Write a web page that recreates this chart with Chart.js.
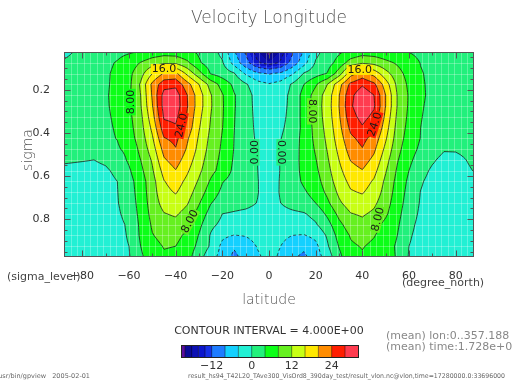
<!DOCTYPE html>
<html><head><meta charset="utf-8">
<script src="https://cdn.jsdelivr.net/npm/chart.js@4.4.1/dist/chart.umd.min.js"></script>
<style>html,body{margin:0;padding:0;background:#fff;overflow:hidden}#c{display:block}</style>
</head><body>
<canvas id="c" width="513" height="382"></canvas>
<script>
// ---------------- data ----------------
const latitudes = [-87.86,-80,-75,-70,-65,-60,-55,-50,-45,-40,-35,-30,-25,-20,-15,-10,-5,0,
                   5,10,15,20,25,30,35,40,45,50,55,60,65,70,75,80,87.86];
const sigmaLevels = [0.025,0.075,0.125,0.175,0.225,0.275,0.325,0.375,0.425,0.475,
                     0.525,0.575,0.625,0.675,0.725,0.775,0.825,0.875,0.925,0.975];
// zonal-mean velocity (m/s), one row per sigma level, columns follow latitudes
const windRows = [
 [-1.0,1.0,1.8,2.4,3.0,3.6,4.2,5.5,6.3,6.0,4.8,3.5,1.5,-1.0,-7.5,-12.5,-17.5,-21.0, -17.5,-12.5,-7.5,-1.0,1.5,3.5,5.0,6.3,6.0,5.3,4.5,3.95,3.2,2.6,2.0,1.2,0.3],
 [0.5,1.8,2.5,3.2,4.3,6.0,8.2,10.2,11.3,11.2,8.8,4.5,2.0,0.4,-5.5,-10.5,-15.5,-17.5, -15.5,-10.5,-5.5,0.4,2.3,5.5,9.8,11.5,10.8,9.0,7.5,5.5,3.9,3.2,2.6,1.8,0.8],
 [1.0,2.2,2.8,3.5,4.8,7.0,10.5,16.0,20.5,21.0,15.0,9.5,3.8,2.2,0.4,-4.5,-7.2,-8.3, -7.2,-4.5,0.4,2.4,4.2,10.0,18.5,21.5,18.5,13.5,9.5,6.5,4.2,3.4,2.9,2.3,1.2],
 [1.4,2.5,3.0,3.6,4.8,7.0,12.5,21.0,26.5,27.0,21.5,16.0,10.5,6.5,3.2,0.5,-2.5,-3.7, -2.5,0.5,4.0,7.5,12.0,18.5,25.0,27.5,25.0,18.0,11.0,7.2,4.3,3.5,3.1,2.6,1.5],
 [1.6,2.7,3.1,3.7,4.9,7.3,12.0,20.5,29.5,30.0,24.0,17.8,12.3,8.3,4.3,1.8,-1.5,-2.2, -1.5,1.0,5.5,9.6,13.8,19.8,27.0,30.5,28.0,20.0,11.8,7.6,4.3,3.6,3.2,2.8,1.8],
 [1.6,2.8,3.2,3.7,4.7,7.4,11.7,19.8,29.6,30.2,24.2,17.8,12.4,8.4,4.3,1.8,-1.3,-2.2, -1.2,1.0,5.5,9.8,14.0,20.0,27.5,30.5,28.5,20.0,11.8,7.5,4.2,3.5,3.1,2.7,1.8],
 [1.6,2.8,3.2,3.6,4.5,7.0,11.0,18.5,28.5,29.0,23.5,17.0,12.0,8.3,4.2,1.7,-1.0,-2.3, -1.0,1.2,5.4,9.6,13.8,19.5,26.5,29.3,27.0,19.0,11.2,7.2,4.1,3.4,3.0,2.7,1.8],
 [1.5,2.7,3.1,3.5,4.3,6.6,10.5,17.0,26.5,27.5,22.5,16.3,11.6,8.1,4.1,1.7,-0.8,-2.3, -0.6,1.4,5.2,9.3,13.3,18.8,25.0,27.6,25.0,17.8,10.6,6.8,4.0,3.3,3.0,2.6,1.8],
 [1.4,2.6,3.0,3.4,4.1,6.2,9.8,15.5,23.8,25.0,20.5,15.5,11.0,7.7,4.0,1.6,-0.5,-2.3, -0.1,1.8,5.4,8.9,12.8,18.0,23.2,25.2,22.5,16.5,10.0,6.3,3.9,3.2,2.8,2.4,1.7],
 [1.2,2.4,2.8,3.1,3.6,5.0,9.0,14.0,21.5,23.8,19.5,14.8,10.5,7.4,3.9,1.5,-0.2,-2.3, 0.1,2.2,5.3,8.4,12.2,17.0,21.8,23.8,20.8,15.0,9.2,5.6,3.3,1.8,0.3,0.3,1.0],
 [0.35,0.15,0.0,0.6,2.0,4.6,8.0,12.5,19.5,21.8,18.0,13.8,9.8,7.0,3.6,1.4,0.0,-2.3, 0.2,2.4,5.2,7.8,11.5,16.0,20.2,21.8,19.0,13.5,8.3,4.8,2.3,0.5,-1.0,-0.8,0.6],
 [-0.6,-0.8,-0.9,-0.5,0.8,3.5,7.0,11.5,17.5,19.8,16.5,12.8,9.2,6.5,3.2,1.2,0.1,-2.3, 0.2,2.5,5.0,7.2,10.8,15.0,18.5,19.8,17.2,12.3,7.5,4.0,1.3,-0.6,-1.5,-1.2,0.1],
 [-1.2,-1.4,-1.5,-1.1,0.0,2.6,6.0,10.5,15.8,17.8,15.0,11.5,7.5,4.2,2.5,1.2,0.2,-2.0, 0.3,2.4,4.6,6.4,10.0,14.0,17.0,17.8,15.5,11.2,6.8,3.2,0.4,-1.2,-1.8,-1.6,-0.8],
 [-1.4,-1.5,-1.4,-1.0,-0.1,2.2,5.8,10.2,14.8,16.3,13.8,10.0,6.0,3.2,2.0,1.2,0.2,-1.8, 0.3,2.0,3.5,5.5,8.8,12.8,15.6,16.3,14.3,10.5,6.3,2.7,-0.1,-1.4,-1.9,-1.8,-1.2],
 [-1.5,-1.6,-1.5,-1.2,-0.2,1.8,5.5,9.8,13.5,14.5,12.3,8.3,4.2,2.0,1.4,1.0,-0.1,-1.5, 0.0,1.4,2.2,4.0,7.2,11.3,14.0,14.5,12.8,9.6,5.8,2.2,-0.3,-1.5,-2.0,-1.9,-1.4],
 [-1.6,-1.7,-1.6,-1.3,-0.5,1.2,5.2,9.2,11.8,12.5,10.5,6.5,2.5,0.0,-0.4,-0.8,-1.2,-1.6, -1.2,-0.8,-0.3,1.2,4.8,9.0,11.8,12.5,11.2,8.6,5.2,1.6,-0.6,-1.6,-2.0,-2.0,-1.6],
 [-1.7,-1.8,-1.7,-1.5,-0.9,0.5,4.8,8.5,10.5,10.8,8.8,5.0,0.9,-0.9,-2.0,-2.2,-2.0,-1.8, -2.0,-2.2,-1.8,-0.4,2.5,7.0,10.0,10.8,9.3,7.0,4.6,0.9,-0.9,-1.7,-2.0,-2.0,-1.7],
 [-1.7,-1.8,-1.7,-1.5,-1.0,0.3,4.6,7.8,9.2,9.0,7.2,3.8,-0.3,-3.2,-4.1,-3.8,-2.8,-2.3, -3.0,-4.0,-4.2,-3.0,0.5,5.5,8.3,9.2,8.2,6.4,4.0,0.4,-1.1,-1.8,-2.0,-2.0,-1.8],
 [-1.6,-1.7,-1.6,-1.4,-0.9,0.0,4.0,6.8,8.2,8.0,6.2,3.0,-0.5,-5.0,-7.5,-5.8,-3.8,-2.8, -4.0,-6.0,-7.2,-5.0,-0.5,4.2,7.5,8.2,7.3,5.6,3.5,0.0,-1.2,-1.8,-2.0,-2.0,-1.8],
 [-1.5,-1.6,-1.5,-1.3,-0.9,-0.3,3.4,6.0,7.5,7.2,5.5,1.5,-2.5,-5.5,-9.0,-6.5,-4.5,-3.0, -4.5,-7.5,-8.8,-6.0,-2.2,3.0,6.8,7.6,6.8,5.0,3.8,-0.3,-1.2,-1.7,-1.9,-1.9,-1.7]
];
const xTickValues = [-80,-60,-40,-20,0,20,40,60,80];
const yTickValues = [0.2,0.4,0.6,0.8];
const contourLevels = [-20,-16,-12,-8,-4,0,4,8,12,16,20,24,28];
const colorBounds = [-21.2,-20,-18,-16,-14,-12,-8,-4,0,4,8,12,16,20,24,28,31.8];
const bandColors = ['#5a0c9e','#0a0a96','#0c10b4','#0c16cc','#1630e6','#1e7cff','#14d0ff','#22f0d4',
                    '#22f07c','#0cff18','#66f020','#c8ff14','#ffe800','#ff8c00','#ff1e00','#ff3c50'];
const colorbarTicks = [-12,0,12,24];
const contourLabels = [
  {lat:-45.0, sig:0.104, text:'16.0', rot:0},
  {lat:38.9,  sig:0.108, text:'16.0', rot:0},
  {lat:-59.3, sig:0.257, text:'8.00', rot:-90},
  {lat:18.4,  sig:0.300, text:'8.00', rot:90},
  {lat:-37.6, sig:0.365, text:'24.0', rot:-78},
  {lat:45.3,  sig:0.360, text:'24.0', rot:-72},
  {lat:-34.0, sig:0.810, text:'8.00', rot:-62},
  {lat:46.6,  sig:0.800, text:'8.00', rot:-76},
  {lat:-6.2,  sig:0.490, text:'0.00', rot:-90},
  {lat:5.3,   sig:0.490, text:'0.00', rot:90}
];
// ---------------------------------------------------------------
const FONT = '"DejaVu Sans", "Liberation Sans", sans-serif';

function locate(arr, v){
  const n = arr.length;
  if (v <= arr[0]) return [0, 0];
  if (v >= arr[n-1]) return [n-2, 1];
  let i = 0; while (i < n-2 && v > arr[i+1]) i++;
  return [i, (v-arr[i])/(arr[i+1]-arr[i])];
}
function fieldAt(lat, sig){
  const [i,tx] = locate(latitudes, lat), [j,ty] = locate(sigmaLevels, sig);
  const a = windRows[j][i], b = windRows[j][i+1], c = windRows[j+1][i], d = windRows[j+1][i+1];
  return (a*(1-tx)+b*tx)*(1-ty) + (c*(1-tx)+d*tx)*ty;
}
function bandIndex(v){
  for (let k = 0; k < bandColors.length; k++) if (v < colorBounds[k+1]) return k;
  return bandColors.length-1;
}
function hexRgb(h){ return [parseInt(h.substr(1,2),16), parseInt(h.substr(3,2),16), parseInt(h.substr(5,2),16)]; }

function chainSegments(segs){
  const adj = new Map();
  segs.forEach((s, idx) => { for (const k of s){ if(!adj.has(k)) adj.set(k, []); adj.get(k).push(idx); } });
  const used = new Array(segs.length).fill(false), out = [];
  for (let s = 0; s < segs.length; s++){
    if (used[s]) continue; used[s] = true;
    let chain = [segs[s][0], segs[s][1]];
    for (let dir = 0; dir < 2; dir++){
      while (true){
        const end = chain[chain.length-1];
        const cand = (adj.get(end) || []).find(id => !used[id]);
        if (cand === undefined) break;
        used[cand] = true;
        const sg = segs[cand]; chain.push(sg[0] === end ? sg[1] : sg[0]);
      }
      chain.reverse();
    }
    out.push(chain);
  }
  return out;
}

const fieldPlugin = {
  id: 'field',
  beforeDatasetsDraw(chart){
    const ctx = chart.ctx, ca = chart.chartArea, xs = chart.scales.x, ys = chart.scales.y;
    const L = Math.round(ca.left), T = Math.round(ca.top), R = Math.round(ca.right), B = Math.round(ca.bottom);
    const W = R-L, H = B-T;
    const img = ctx.createImageData(W, H);
    const rgb = bandColors.map(hexRgb);
    const cl = [], rl = [];
    for (let px = 0; px < W; px++) cl.push(locate(latitudes, xs.getValueForPixel(L+px+0.5)));
    for (let py = 0; py < H; py++) rl.push(locate(sigmaLevels, ys.getValueForPixel(T+py+0.5)));
    for (let py = 0; py < H; py++){
      const [j,ty] = rl[py];
      for (let px = 0; px < W; px++){
        const [i,tx] = cl[px];
        const a = windRows[j][i], b = windRows[j][i+1], c = windRows[j+1][i], d = windRows[j+1][i+1];
        const v = (a*(1-tx)+b*tx)*(1-ty) + (c*(1-tx)+d*tx)*ty;
        const col = rgb[bandIndex(v)], o = (py*W+px)*4;
        img.data[o] = col[0]; img.data[o+1] = col[1]; img.data[o+2] = col[2]; img.data[o+3] = 255;
      }
    }
    ctx.putImageData(img, L, T);

    // faint model grid
    ctx.save();
    ctx.strokeStyle = 'rgba(255,255,255,0.28)'; ctx.lineWidth = 1;
    ctx.beginPath();
    for (let k = 1; k < 64; k++){
      const x = Math.round(xs.getPixelForValue(-87.86 + k*175.72/63)) + 0.5;
      ctx.moveTo(x, T); ctx.lineTo(x, B);
    }
    for (const s of sigmaLevels){
      const y = Math.round(ys.getPixelForValue(s)) + 0.5;
      ctx.moveTo(L, y); ctx.lineTo(R, y);
    }
    ctx.stroke();
    ctx.restore();

    // contour lines (marching squares on a refined bilinear grid)
    const SUB = 4, lr = [], sr = [];
    for (let i = 0; i < latitudes.length-1; i++) for (let s = 0; s < SUB; s++) lr.push(latitudes[i] + (latitudes[i+1]-latitudes[i])*s/SUB);
    lr.push(latitudes[latitudes.length-1]);
    for (let j = 0; j < sigmaLevels.length-1; j++) for (let s = 0; s < SUB; s++) sr.push(sigmaLevels[j] + (sigmaLevels[j+1]-sigmaLevels[j])*s/SUB);
    sr.push(sigmaLevels[sigmaLevels.length-1]);
    const V = sr.map(sg => lr.map(la => fieldAt(la, sg)));
    const PX = lr.map(la => xs.getPixelForValue(la)), PY = sr.map(sg => ys.getPixelForValue(sg));
    ctx.save();
    ctx.beginPath(); ctx.rect(ca.left, ca.top, ca.right-ca.left, ca.bottom-ca.top); ctx.clip();
    ctx.strokeStyle = 'rgba(25,25,25,0.85)'; ctx.lineWidth = 0.9; ctx.lineJoin = 'round';
    for (const lev of contourLevels){
      const segs = [], pts = new Map();
      const ep = (key, xa, ya, va, xb, yb, vb) => {
        if (!pts.has(key)){ const t = (lev-va)/(vb-va); pts.set(key, [xa+(xb-xa)*t, ya+(yb-ya)*t]); }
        return key;
      };
      for (let j = 0; j < sr.length-1; j++){
        for (let i = 0; i < lr.length-1; i++){
          const a = V[j][i], b = V[j][i+1], c = V[j+1][i+1], d = V[j+1][i];
          const sa = a >= lev, sb = b >= lev, sc = c >= lev, sd = d >= lev;
          if (sa === sb && sb === sc && sc === sd) continue;
          let top = null, right = null, bottom = null, left = null;
          if (sa !== sb) top = ep('h'+i+'_'+j, PX[i], PY[j], a, PX[i+1], PY[j], b);
          if (sb !== sc) right = ep('v'+(i+1)+'_'+j, PX[i+1], PY[j], b, PX[i+1], PY[j+1], c);
          if (sd !== sc) bottom = ep('h'+i+'_'+(j+1), PX[i], PY[j+1], d, PX[i+1], PY[j+1], c);
          if (sa !== sd) left = ep('v'+i+'_'+j, PX[i], PY[j], a, PX[i], PY[j+1], d);
          const list = [top, right, bottom, left].filter(k => k !== null);
          if (list.length === 2) segs.push(list);
          else if (list.length === 4){
            const ctr = (a+b+c+d)/4 >= lev;
            if (ctr === sa){ segs.push([top, right]); segs.push([bottom, left]); }
            else { segs.push([top, left]); segs.push([right, bottom]); }
          }
        }
      }
      const chains = chainSegments(segs);
      ctx.setLineDash(lev < 0 ? [3, 2.5] : []);
      for (const ch of chains){
        ctx.beginPath();
        ch.forEach((k, n) => { const p = pts.get(k); if (n === 0) ctx.moveTo(p[0], p[1]); else ctx.lineTo(p[0], p[1]); });
        ctx.stroke();
      }
    }
    ctx.setLineDash([]);
    // contour labels
    ctx.font = '11px ' + FONT;
    ctx.textAlign = 'center'; ctx.textBaseline = 'middle';
    for (const lb of contourLabels){
      const x = xs.getPixelForValue(lb.lat), y = ys.getPixelForValue(lb.sig);
      const w = ctx.measureText(lb.text).width;
      ctx.save();
      ctx.translate(x, y); ctx.rotate(lb.rot*Math.PI/180);
      ctx.fillStyle = bandColors[bandIndex(fieldAt(lb.lat, lb.sig))];
      ctx.fillRect(-w/2-1, -5, w+2, 10);
      ctx.fillStyle = '#1a1a1a';
      ctx.fillText(lb.text, 0, 0.5);
      ctx.restore();
    }
    ctx.restore();
  },
  afterDraw(chart){
    const ctx = chart.ctx, ca = chart.chartArea, xs = chart.scales.x, ys = chart.scales.y;
    const L = Math.round(ca.left)+0.5, T = Math.round(ca.top)+0.5, R = Math.round(ca.right)-0.5, B = Math.round(ca.bottom)-0.5;
    ctx.save();
    ctx.strokeStyle = '#555'; ctx.lineWidth = 1;
    ctx.strokeRect(L, T, R-L, B-T);
    ctx.beginPath();
    for (let v = -80; v <= 80; v += 10){
      const x = Math.round(xs.getPixelForValue(v)) + 0.5, len = (v % 20 === 0) ? 6 : 3;
      ctx.moveTo(x, B); ctx.lineTo(x, B-len); ctx.moveTo(x, T); ctx.lineTo(x, T+len);
    }
    for (let k = 1; k <= 19; k++){
      const v = k*0.05; if (v < 0.025 || v > 0.975) continue;
      const y = Math.round(ys.getPixelForValue(v)) + 0.5, len = (k % 4 === 0) ? 6 : 3;
      ctx.moveTo(L, y); ctx.lineTo(L+len, y); ctx.moveTo(R, y); ctx.lineTo(R-len, y);
    }
    ctx.stroke();

    // texts
    ctx.fillStyle = '#555'; ctx.textAlign = 'center'; ctx.textBaseline = 'middle';
    ctx.font = '300 17px ' + FONT;
    ctx.fillText('Velocity Longitude', 269, 19);
    ctx.font = '300 14px ' + FONT;
    ctx.fillText('latitude', 269, 300);
    ctx.save(); ctx.translate(28, 150); ctx.rotate(-Math.PI/2); ctx.fillText('sigma', 0, 0); ctx.restore();
    ctx.fillStyle = '#444';
    ctx.font = '11px ' + FONT; ctx.textAlign = 'left';
    ctx.fillText('(sigma_level)', 7, 277);
    ctx.fillText('(degree_north)', 402, 283);
    ctx.fillStyle = '#333';
    ctx.textAlign = 'center';
    ctx.fillText('CONTOUR INTERVAL = 4.000E+00', 269, 331);
    ctx.fillStyle = '#888'; ctx.textAlign = 'left';
    ctx.fillText('(mean) lon:0..357.188', 386, 336);
    ctx.fillText('(mean) time:1.728e+07', 386, 347);
    ctx.fillStyle = '#666';
    ctx.font = '6.5px ' + FONT;
    ctx.textAlign = 'right';
    ctx.fillText('/usr/bin/gpview   2005-02-01', 90, 376);
    ctx.textAlign = 'left';
    ctx.fillText('result_hs94_T42L20_TAve300_VisOrd8_390day_test/result_vlon.nc@vlon,time=17280000.0:33696000', 188, 376, 317);

    // colour bar
    const cb0 = 251.7, cbs = 40/12, cbT = 345, cbH = 12;
    const px = v => cb0 + v*cbs;
    for (let k = 0; k < bandColors.length; k++){
      ctx.fillStyle = bandColors[k];
      ctx.fillRect(px(colorBounds[k]), cbT, px(colorBounds[k+1]) - px(colorBounds[k]) + 0.3, cbH);
    }
    ctx.strokeStyle = 'rgba(0,0,0,0.55)'; ctx.lineWidth = 0.8;
    ctx.beginPath();
    for (let k = 1; k < colorBounds.length-1; k++){ const x = px(colorBounds[k]); ctx.moveTo(x, cbT); ctx.lineTo(x, cbT+cbH); }
    ctx.stroke();
    ctx.strokeStyle = '#222'; ctx.lineWidth = 1;
    ctx.strokeRect(Math.round(px(colorBounds[0]))+0.5, cbT+0.5, Math.round(px(colorBounds[colorBounds.length-1]) - px(colorBounds[0])), cbH);
    ctx.fillStyle = '#333'; ctx.font = '11px ' + FONT; ctx.textAlign = 'center';
    for (const t of colorbarTicks) ctx.fillText(t < 0 ? '\u2212' + Math.abs(t) : String(t), px(t), 366);
    ctx.restore();
  }
};

const gridPoints = [];
sigmaLevels.forEach((s, j) => latitudes.forEach((la, i) => gridPoints.push({x: la, y: s, v: windRows[j][i]})));

new Chart(document.getElementById('c'), {
  type: 'scatter',
  data: { datasets: [{ data: gridPoints, pointRadius: 0, pointHoverRadius: 0, showLine: false }] },
  options: {
    responsive: false, animation: false, devicePixelRatio: 1,
    layout: { padding: { left: 0, top: 52, right: 39, bottom: 0 } },
    plugins: { legend: { display: false }, tooltip: { enabled: false } },
    events: [],
    scales: {
      x: {
        type: 'linear', min: -87.86, max: 87.86,
        grid: { display: false }, border: { display: false },
        afterBuildTicks: s => { s.ticks = xTickValues.map(v => ({ value: v })); },
        afterFit: s => { s.height = 125; },
        ticks: { autoSkip: false, maxRotation: 0, padding: 5, color: '#333', font: { family: FONT, size: 11 },
                 callback: v => v < 0 ? '\u2212' + Math.abs(v) : String(v) }
      },
      y: {
        type: 'linear', min: 0.025, max: 0.975, reverse: true,
        grid: { display: false }, border: { display: false },
        afterBuildTicks: s => { s.ticks = yTickValues.map(v => ({ value: v })); },
        afterFit: s => { s.width = 64; },
        ticks: { autoSkip: false, padding: 6, color: '#333', font: { family: FONT, size: 11 },
                 callback: v => Number(v).toFixed(1) }
      }
    }
  },
  plugins: [fieldPlugin]
});
</script>
</body></html>
